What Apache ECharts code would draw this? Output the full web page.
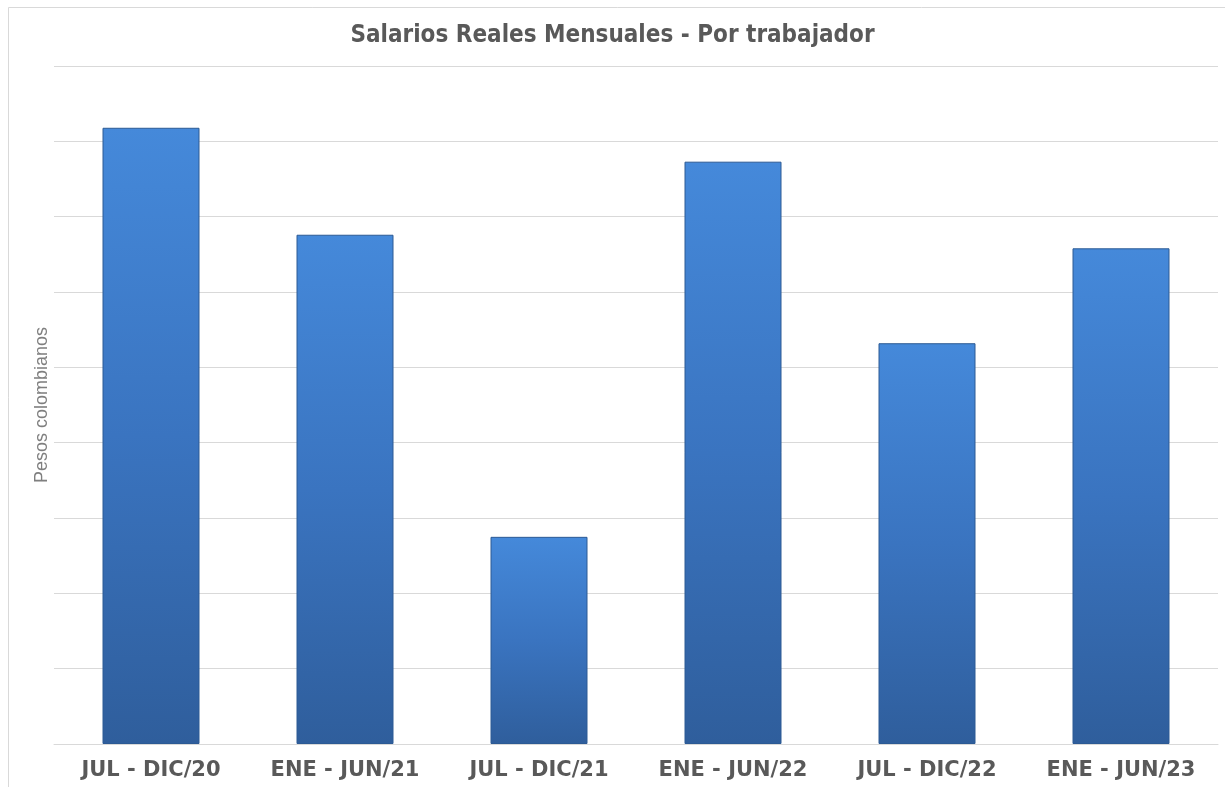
<!DOCTYPE html>
<html>
<head>
<meta charset="utf-8">
<script src="https://cdn.jsdelivr.net/npm/echarts@6/dist/echarts.min.js"></script>
<style>
  html, body { margin: 0; padding: 0; background: #fff; }
  #chart { width: 1225px; height: 787px; }
</style>
</head>
<body>
<div id="chart"></div>
<script>
// periodos semestrales
var periodos = ['JUL - DIC/20', 'ENE - JUN/21', 'JUL - DIC/21', 'ENE - JUN/22', 'JUL - DIC/22', 'ENE - JUN/23'];
// salario real (escala del eje, sin etiquetas)
var salarios = [8.18, 6.76, 2.75, 7.73, 5.32, 6.58];
var ejeMin = 0;
var ejeMax = 9;
var ejeIntervalo = 1;

var myChart = echarts.init(document.getElementById('chart'));

var option = {
    backgroundColor: '#fff',
    animation: false,
    title: {
        text: 'Salarios Reales Mensuales - Por trabajador',
        left: 'center',
        top: 19,
        textStyle: {
            fontFamily: 'DejaVu Sans Condensed',
            fontWeight: 'bold',
            fontSize: 24,
            color: '#595959'
        }
    },
    graphic: [
        {
            type: 'rect',
            shape: { x: 8.5, y: 7.5, width: 1230, height: 800 },
            style: { fill: 'none', stroke: '#d9d9d9', lineWidth: 1 },
            silent: true
        }
    ],
    grid: {
        top: 66,
        bottom: 43,
        left: 54,
        right: 7
    },
    xAxis: {
        type: 'category',
        data: periodos,
        axisLine: { lineStyle: { color: '#d9d9d9' } },
        axisTick: { show: false },
        axisLabel: {
            margin: 16,
            fontFamily: 'DejaVu Sans',
            fontWeight: 'bold',
            fontSize: 21,
            color: '#595959'
        }
    },
    yAxis: {
        type: 'value',
        min: ejeMin,
        max: ejeMax,
        interval: ejeIntervalo,
        name: 'Pesos colombianos',
        nameLocation: 'middle',
        nameGap: 3,
        nameTextStyle: {
            fontFamily: 'Liberation Sans',
            fontSize: 18,
            color: '#7f7f7f'
        },
        axisLine: { show: false },
        axisTick: { show: false },
        axisLabel: { show: false },
        splitLine: { lineStyle: { color: '#d9d9d9' } }
    },
    series: [
        {
            type: 'bar',
            data: salarios,
            barWidth: '50%',
            itemStyle: {
                color: {
                    type: 'linear',
                    x: 0, y: 0, x2: 0, y2: 1,
                    colorStops: [
                        { offset: 0, color: '#4589da' },
                        { offset: 0.5, color: '#3a74c0' },
                        { offset: 1, color: '#2f5e9c' }
                    ]
                },
                borderColor: '#2c5a94',
                borderWidth: 1
            }
        }
    ]
};

myChart.setOption(option);
</script>
</body>
</html>
